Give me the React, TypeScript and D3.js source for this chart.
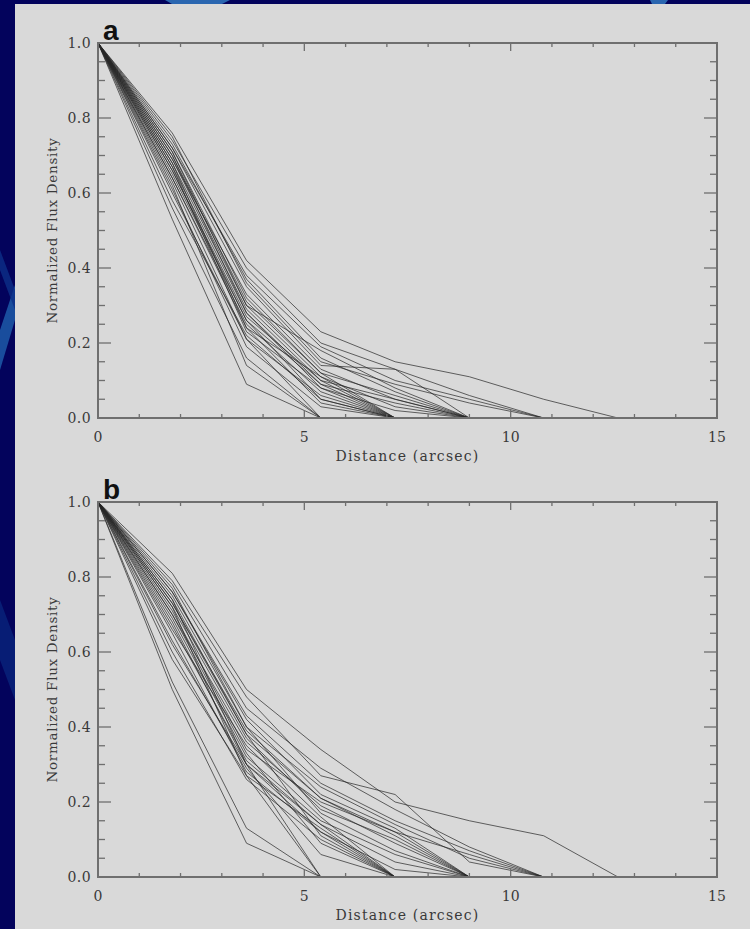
import React from "react";
import * as d3 from "d3";

// radial profiles sampled every 1.8 arcsec, each runs until it reaches zero
const distances = [0, 1.8, 3.6, 5.4, 7.2, 9.0, 10.8, 12.6];
const xTicks = [0, 5, 10, 15];
const yTicks = [0, 0.2, 0.4, 0.6, 0.8, 1.0];
const panelLabels = ["a", "b"];

const profilesA: number[][] = [
  [1, 0.53, 0.09, 0],
  [1, 0.56, 0.16, 0],
  [1, 0.6, 0.21, 0],
  [1, 0.62, 0.14, 0],
  [1, 0.58, 0.22, 0.05, 0],
  [1, 0.64, 0.25, 0.07, 0],
  [1, 0.66, 0.27, 0.1, 0],
  [1, 0.68, 0.24, 0.04, 0],
  [1, 0.63, 0.21, 0.06, 0],
  [1, 0.69, 0.3, 0.11, 0],
  [1, 0.7, 0.28, 0.09, 0],
  [1, 0.67, 0.23, 0.08, 0],
  [1, 0.61, 0.19, 0.03, 0],
  [1, 0.71, 0.32, 0.12, 0],
  [1, 0.65, 0.26, 0.05, 0],
  [1, 0.72, 0.35, 0.14, 0.13, 0],
  [1, 0.7, 0.31, 0.12, 0.06, 0],
  [1, 0.68, 0.29, 0.1, 0.05, 0],
  [1, 0.73, 0.37, 0.16, 0.07, 0],
  [1, 0.66, 0.26, 0.09, 0.04, 0],
  [1, 0.69, 0.33, 0.13, 0.05, 0],
  [1, 0.64, 0.24, 0.11, 0.03, 0],
  [1, 0.71, 0.3, 0.18, 0.08, 0],
  [1, 0.67, 0.28, 0.08, 0.02, 0],
  [1, 0.74, 0.4, 0.2, 0.13, 0.06, 0],
  [1, 0.72, 0.38, 0.19, 0.1, 0.05, 0],
  [1, 0.75, 0.36, 0.15, 0.09, 0.04, 0],
  [1, 0.76, 0.42, 0.23, 0.15, 0.11, 0.05, 0],
];

const profilesB: number[][] = [
  [1, 0.5, 0.09, 0],
  [1, 0.52, 0.13, 0],
  [1, 0.58, 0.27, 0],
  [1, 0.62, 0.3, 0],
  [1, 0.6, 0.26, 0.1, 0],
  [1, 0.65, 0.28, 0.12, 0],
  [1, 0.68, 0.3, 0.14, 0],
  [1, 0.7, 0.33, 0.09, 0],
  [1, 0.72, 0.27, 0.13, 0],
  [1, 0.66, 0.35, 0.16, 0],
  [1, 0.74, 0.38, 0.11, 0],
  [1, 0.63, 0.29, 0.06, 0],
  [1, 0.7, 0.36, 0.19, 0.09, 0],
  [1, 0.73, 0.38, 0.21, 0.11, 0],
  [1, 0.75, 0.4, 0.17, 0.07, 0],
  [1, 0.69, 0.32, 0.15, 0.06, 0],
  [1, 0.71, 0.34, 0.2, 0.12, 0],
  [1, 0.76, 0.42, 0.22, 0.13, 0],
  [1, 0.67, 0.31, 0.14, 0.04, 0],
  [1, 0.72, 0.37, 0.18, 0.1, 0],
  [1, 0.74, 0.3, 0.12, 0.02, 0],
  [1, 0.78, 0.45, 0.29, 0.18, 0.08, 0],
  [1, 0.76, 0.43, 0.25, 0.15, 0.07, 0],
  [1, 0.77, 0.4, 0.24, 0.14, 0.05, 0],
  [1, 0.73, 0.39, 0.21, 0.12, 0.06, 0],
  [1, 0.79, 0.48, 0.27, 0.22, 0.04, 0],
  [1, 0.81, 0.5, 0.34, 0.2, 0.15, 0.11, 0],
];

const W = 750;
const H = 929;
const left = 98;
const right = 717;
const axisColor = "#6f6f6f";
const textColor = "#3a3a3a";
const serif = "'DejaVu Serif', serif";

function Panel({ top, bottom, label, profiles }) {
  const x = d3.scaleLinear().domain([0, 15]).range([left, right]);
  const y = d3.scaleLinear().domain([0, 1]).range([bottom, top]);
  const line = d3
    .line<number>()
    .x((_, i) => x(distances[i]))
    .y((v) => y(v));

  const xMinor = d3.range(0, 16, 1);
  const yMinor = d3.range(0, 1.0001, 0.05);
  const fmt = d3.format(".1f");

  return (
    <g>
      {profiles.map((p, i) => (
        <path
          key={i}
          d={line(p)}
          fill="none"
          stroke="#262626"
          strokeWidth={1}
          strokeOpacity={0.7}
        />
      ))}

      {/* x ticks top + bottom */}
      {xMinor.map((t) => {
        const len = t % 5 === 0 ? 8 : 4;
        return (
          <g key={"x" + t} stroke={axisColor} strokeWidth={1.3}>
            <line x1={x(t)} x2={x(t)} y1={bottom} y2={bottom - len} />
            <line x1={x(t)} x2={x(t)} y1={top} y2={top + len} />
          </g>
        );
      })}
      {/* y ticks left + right */}
      {yMinor.map((t, i) => {
        const len = i % 4 === 0 ? 13 : 7;
        return (
          <g key={"y" + i} stroke={axisColor} strokeWidth={1.3}>
            <line x1={left} x2={left + len} y1={y(t)} y2={y(t)} />
            <line x1={right} x2={right - len} y1={y(t)} y2={y(t)} />
          </g>
        );
      })}

      <rect
        x={left}
        y={top}
        width={right - left}
        height={bottom - top}
        fill="none"
        stroke={axisColor}
        strokeWidth={2}
      />

      {yTicks.map((t) => (
        <text
          key={"yl" + t}
          x={left - 7}
          y={y(t) + 5}
          textAnchor="end"
          fontFamily={serif}
          fontSize={14}
          letterSpacing={0.4}
          fill={textColor}
        >
          {fmt(t)}
        </text>
      ))}
      {xTicks.map((t) => (
        <text
          key={"xl" + t}
          x={x(t)}
          y={bottom + 24}
          textAnchor="middle"
          fontFamily={serif}
          fontSize={14}
          fill={textColor}
        >
          {t}
        </text>
      ))}

      <text
        x={(left + right) / 2}
        y={bottom + 43}
        textAnchor="middle"
        fontFamily={serif}
        fontSize={14}
        letterSpacing={1.2}
        fill={textColor}
      >
        Distance (arcsec)
      </text>
      <text
        transform={`translate(57,${(top + bottom) / 2}) rotate(-90)`}
        textAnchor="middle"
        fontFamily={serif}
        fontSize={13.5}
        letterSpacing={0.7}
        fill={textColor}
      >
        Normalized Flux Density
      </text>

      <text
        x={103}
        y={top - 3}
        fontFamily="'Liberation Sans', Arial, sans-serif"
        fontWeight="bold"
        fontSize={28}
        fill="#111"
      >
        {label}
      </text>
    </g>
  );
}

export default function App() {
  return (
    <svg
      width={W}
      height={H}
      style={{ position: "absolute", left: 0, top: 0, display: "block" }}
    >
      {/* slide background */}
      <rect width={W} height={H} fill="#03035c" />
      <polygon points="0,330 15,285 15,320 0,370" fill="#1d5aa8" opacity={0.85} />
      <polygon points="0,250 15,290 15,310 0,270" fill="#0d2f88" opacity={0.8} />
      <polygon points="0,600 15,640 15,700 0,660" fill="#0a2a80" opacity={0.7} />
      <polygon points="165,0 230,0 222,4 172,4" fill="#2a66b0" />
      <polygon points="650,0 668,0 665,4 652,4" fill="#2a66b0" />
      <rect x={15} y={4} width={W - 15} height={H - 4} fill="#d9d9d9" />

      <Panel top={43} bottom={418} label={panelLabels[0]} profiles={profilesA} />
      <Panel top={502} bottom={877} label={panelLabels[1]} profiles={profilesB} />
    </svg>
  );
}
